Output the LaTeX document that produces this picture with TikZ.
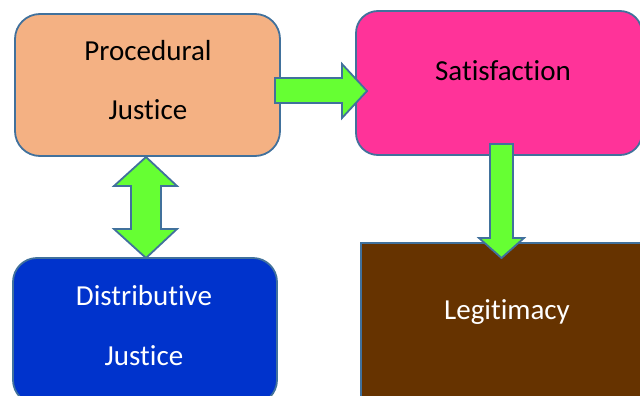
\documentclass[tikz,border=0pt]{standalone}
\usepackage{fontspec}
\setmainfont{Carlito}[Ligatures={NoCommon,NoContextual,NoDiscretionary}]
\definecolor{edge}{HTML}{41719C}
\definecolor{peach}{HTML}{F4B183}
\definecolor{pink}{HTML}{FF3399}
\definecolor{royal}{HTML}{0033CC}
\definecolor{brown}{HTML}{663300}
\definecolor{lime}{HTML}{66FF33}
\begin{document}
\begin{tikzpicture}[x=1pt,y=-1pt,
  box/.style={draw=edge, line width=1.8pt, minimum width=#1},
  box/.default=10pt,
  txt/.style={anchor=base, font=\fontsize{29}{31}\selectfont},
  blockarrow/.style={draw=edge, line width=1.8pt, fill=lime, line join=miter}]
\useasboundingbox (0,0) rectangle (640,396);
\begin{scope}
\clip (0,0) rectangle (640,396);
% boxes
\node[box=265pt, minimum height=142pt, rounded corners=25pt, fill=peach] (proc) at (147.5,85) {};
\node[box=286pt, minimum height=144pt, rounded corners=22pt, fill=pink] (sat) at (499,83) {};
\node[box=264pt, minimum height=146pt, rounded corners=24pt, fill=royal] (dist) at (145,331) {};
\node[box=289pt, minimum height=167pt, fill=brown] (legit) at (505.5,326.5) {};
% labels
\node[txt] (t1) at (148,60) {Procedural};
\node[txt] (t2) at (148,119) {Justice};
\node[txt] (t3) at (503,81) {Satisfaction};
\node[txt, text=white] (t4) at (144,305) {Distributive};
\node[txt, text=white] (t5) at (144,365) {Justice};
\node[txt, text=white] (t6) at (507,319) {Legitimacy};
% block arrows
\draw[blockarrow] (275,78) -- (342,78) -- (342,64) -- (367,91) -- (342,118) -- (342,103) -- (275,103) -- cycle;
\draw[blockarrow] (146,157) -- (177,186) -- (161,186) -- (161,229) -- (177,229) -- (146,258) -- (114,229) -- (131,229) -- (131,186) -- (114,186) -- cycle;
\draw[blockarrow] (490,144) -- (513,144) -- (513,238) -- (524,238) -- (501.5,258) -- (479,238) -- (490,238) -- cycle;
\end{scope}
\end{tikzpicture}
\end{document}
